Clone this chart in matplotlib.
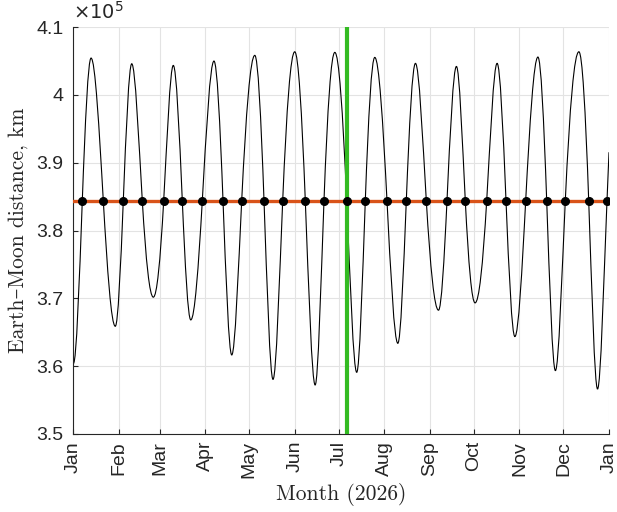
import numpy as np
import matplotlib
matplotlib.use('Agg')
import matplotlib.pyplot as plt
import matplotlib.dates as mdates
from matplotlib.path import Path
from matplotlib.patches import PathPatch
from matplotlib.ticker import FixedLocator, FuncFormatter
from datetime import datetime, timedelta

# ---------------- data ----------------
year_start = datetime(2026, 1, 1)
month_labels = ['Jan', 'Feb', 'Mar', 'Apr', 'May', 'Jun', 'Jul',
                'Aug', 'Sep', 'Oct', 'Nov', 'Dec', 'Jan']
y_ticks = [350000, 360000, 370000, 380000, 390000, 400000, 410000]

# perigee / apogee extrema: day of year (from Jan 1) and distance (km)
extrema_day = [0.3, 12.3, 28.8, 40.0, 54.7, 68.3, 80.2, 96.0, 108.1, 123.8,
               136.2, 151.0, 164.9, 178.3, 193.2, 205.5, 221.2, 233.2, 248.9,
               261.1, 273.8, 288.8, 300.9, 316.6, 328.5, 344.5, 357.2]
extrema_km = [360410, 405420, 365880, 404580, 370170, 404340, 366820, 404980,
              361650, 405820, 358050, 406350, 357220, 406260, 359090, 405520,
              363370, 404640, 368250, 404190, 369330, 404640, 364360, 405570,
              359340, 406350, 356630]
# days where the distance crosses the mean distance (black dots)
cross_day = [6.33, 20.63, 34.25, 47.19, 61.76, 74.43, 88.05, 102.15, 114.88,
             130.07, 142.80, 158.19, 170.92, 186.38, 199.05, 213.82, 226.97,
             240.59, 254.68, 267.14, 281.72, 294.86, 308.27, 322.57, 335.24,
             351.18, 363.64]
mean_km = 384400
end_day = 365.0
end_km = 391540
green_day = 186.4

# ---------------- build smooth curve through the knots ----------------
base = mdates.date2num(year_start)
ed = np.array(extrema_day)
ek = np.array(extrema_km, dtype=float)

knots = []  # (day, km, slope)
for d, k in zip(extrema_day, extrema_km):
    knots.append((d, k, 0.0))
for c in cross_day:
    i = np.searchsorted(ed, c) - 1
    if i + 1 < len(ed):
        tA, yA, tB, yB = ed[i], ek[i], ed[i + 1], ek[i + 1]
        dy = yB - yA
        u = (2 * mean_km - yA - yB) / dy
        m = (np.pi / 2) * (dy / (tB - tA)) * np.sqrt(max(0.0, 1 - u * u))
    else:
        m = (end_km - mean_km) / (end_day - c)
    knots.append((c, mean_km, m))
knots.append((end_day, end_km, (end_km - mean_km) / (end_day - cross_day[-1])))
knots.sort(key=lambda q: q[0])

verts = [(base + knots[0][0], knots[0][1])]
codes = [Path.MOVETO]
for (t0, y0, m0), (t1, y1, m1) in zip(knots[:-1], knots[1:]):
    h = t1 - t0
    verts += [(base + t0 + h / 3, y0 + m0 * h / 3),
              (base + t1 - h / 3, y1 - m1 * h / 3),
              (base + t1, y1)]
    codes += [Path.CURVE4] * 3

# ---------------- figure ----------------
fig = plt.figure(figsize=(6.17, 5.12), dpi=100)
ax = fig.add_axes([73 / 617, 1 - 434 / 512, (609 - 73) / 617, (434 - 27) / 512])

tick_font = ['Liberation Sans', 'DejaVu Sans']
serif_font = ['cmr10', 'DejaVu Serif']
dark = '#262626'

cross_dates = [year_start + timedelta(days=c) for c in cross_day]
ax.add_patch(PathPatch(Path(verts, codes), fill=False, edgecolor='black',
                       lw=0.8, zorder=2))
ax.axhline(mean_km, color='#D95319', lw=2.4, zorder=3)
ax.axvline(year_start + timedelta(days=green_day), color='#33bb22', lw=3.0,
           zorder=4)
ax.plot(cross_dates, [mean_km] * len(cross_dates), 'o', color='black',
        ms=5.5, zorder=5, linestyle='none')

month_dates = [datetime(2026 + (i // 12), (i % 12) + 1, 1) for i in range(13)]
ax.set_xlim(month_dates[0], month_dates[-1])
ax.set_ylim(y_ticks[0], y_ticks[-1])
ax.set_xticks(month_dates)
ax.set_xticklabels(month_labels, rotation=90, fontfamily=tick_font,
                   fontsize=14, color=dark)
ax.yaxis.set_major_locator(FixedLocator(y_ticks))
ax.yaxis.set_major_formatter(FuncFormatter(lambda v, p: '%g' % (v / 1e5)))
for lab in ax.get_yticklabels():
    lab.set_fontfamily(tick_font)
    lab.set_fontsize(14)
    lab.set_color(dark)

ax.grid(True, color='#e3e3e3', lw=0.8, zorder=0)
ax.set_axisbelow(True)
ax.tick_params(direction='in', length=3.5, width=0.8, color=dark)
ax.tick_params(axis='x', pad=5)
ax.tick_params(axis='y', pad=7)
for s in ['top', 'right']:
    ax.spines[s].set_visible(False)
for s in ['left', 'bottom']:
    ax.spines[s].set_color(dark)
    ax.spines[s].set_linewidth(0.8)

ax.set_ylabel('Earth–Moon distance, km', fontfamily=serif_font, fontsize=15.5,
              color=dark, labelpad=6)
ax.set_xlabel('Month (2026)', fontfamily=serif_font, fontsize=15.5,
              color=dark, labelpad=4)
ax.text(0.0, 1.01, r'$\times10^{5}$', transform=ax.transAxes, ha='left',
        va='bottom', fontsize=14, color=dark, fontfamily=tick_font)

fig.savefig('out.png', dpi=100)
